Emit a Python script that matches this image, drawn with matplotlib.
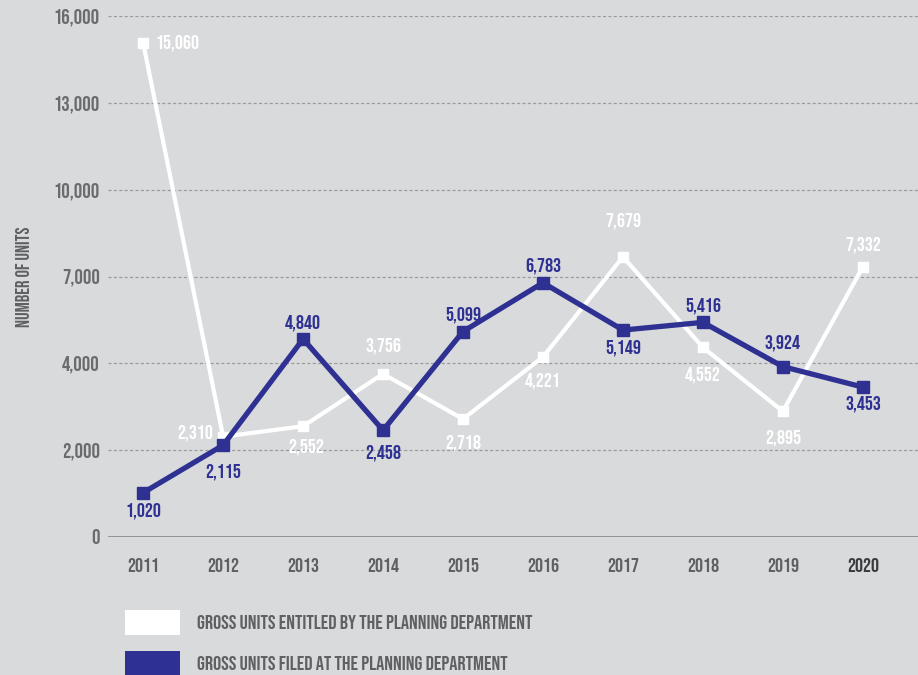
import numpy as np
import matplotlib
matplotlib.use("Agg")
import matplotlib.pyplot as plt
from matplotlib.patches import Rectangle

plt.rcParams['font.family'] = ['Bebas Neue', 'Oswald', 'DejaVu Sans']

years = [2011, 2012, 2013, 2014, 2015, 2016, 2017, 2018, 2019, 2020]
entitled = [15060, 2310, 2552, 3756, 2718, 4221, 7679, 4552, 2895, 7332]
filed = [1020, 2115, 4840, 2458, 5099, 6783, 5149, 5416, 3924, 3453]
ytick_vals = [0, 2000, 4000, 7000, 10000, 13000, 16000]

BG = '#d9dadc'
NAVY = '#2e3192'
GRAY = '#5f6062'

# the axis is evenly spaced between the labelled gridlines
steps = np.arange(len(ytick_vals))
def fwd(v):
    return np.interp(v, ytick_vals, steps)
def inv(s):
    return np.interp(s, steps, ytick_vals)

fig = plt.figure(figsize=(9.18, 6.75), dpi=100, facecolor=BG)
ax = fig.add_axes([108 / 918, 1 - 537 / 675, 1 - 108 / 918, (537 - 16) / 675])
ax.set_facecolor(BG)
ax.set_yscale('function', functions=(fwd, inv))
ax.set_ylim(0, 16000)
ax.set_xlim(2010.56, 2020.69)

for v in ytick_vals[1:]:
    ax.axhline(v, color='#9a9b9d', lw=0.9, ls=(0, (2.5, 1.8)), zorder=1)
ax.axhline(0, color='#8c8d8f', lw=2, zorder=1)

for s in ax.spines.values():
    s.set_visible(False)
ax.tick_params(length=0)
ax.set_yticks(ytick_vals)
ax.set_yticklabels([f'{v:,}' for v in ytick_vals], fontsize=15, color='#6a6b6d')
ax.tick_params(axis='y', pad=6)
ax.set_xticks(years)
ax.set_xticklabels([str(y) for y in years], fontsize=14.5, color=GRAY)
ax.tick_params(axis='x', pad=15)
ax.get_xticklabels()[-1].set_color('#3a3b3d')

ax.set_ylabel('NUMBER OF UNITS', fontsize=13.5, color=GRAY)
ax.yaxis.set_label_coords(-0.096, 0.5)

ax.plot(years, entitled, color='white', lw=3, marker='s', ms=7, zorder=3, clip_on=False)
ax.plot(years, filed, color=NAVY, lw=3.8, marker='s', ms=9, zorder=4, clip_on=False)

# label offsets in points (dx, dy, ha)
ent_off = [(9, 0, 'left'), (-7, 3, 'right'), (2, -15, 'center'), (0, 20, 'center'),
           (0, -17, 'center'), (0, -17, 'center'), (0, 26, 'center'), (0, -20, 'center'),
           (0, -19, 'center'), (0, 16, 'center')]
fil_off = [(0, -13, 'center'), (0, -19, 'center'), (0, 12, 'center'), (0, -16, 'center'),
           (0, 12, 'center'), (0, 12, 'center'), (0, -13, 'center'), (0, 12, 'center'),
           (0, 17, 'center'), (0, -12, 'center')]

for x, v, (dx, dy, ha) in zip(years, entitled, ent_off):
    ax.annotate(f'{v:,}', (x, v), xytext=(dx, dy), textcoords='offset points',
                ha=ha, va='center', fontsize=14.5, color='white', zorder=5)
for x, v, (dx, dy, ha) in zip(years, filed, fil_off):
    ax.annotate(f'{v:,}', (x, v), xytext=(dx, dy), textcoords='offset points',
                ha=ha, va='center', fontsize=14.5, color=NAVY, fontweight='bold', zorder=5)

# legend swatches
W, H = 918, 675
fig.add_artist(Rectangle((125 / W, 1 - 635 / H), 55 / W, 25 / H, transform=fig.transFigure,
                         facecolor='white', edgecolor='none'))
fig.add_artist(Rectangle((125 / W, 1 - 676 / H), 55 / W, 25 / H, transform=fig.transFigure,
                         facecolor=NAVY, edgecolor='none'))
fig.text(197 / W, 1 - 622 / H, 'GROSS UNITS ENTITLED BY THE PLANNING DEPARTMENT',
         fontsize=14.7, color=GRAY, va='center')
fig.text(197 / W, 1 - 663 / H, 'GROSS UNITS FILED AT THE PLANNING DEPARTMENT',
         fontsize=14.7, color=GRAY, va='center')

fig.savefig('out.png', dpi=100, facecolor=BG)
